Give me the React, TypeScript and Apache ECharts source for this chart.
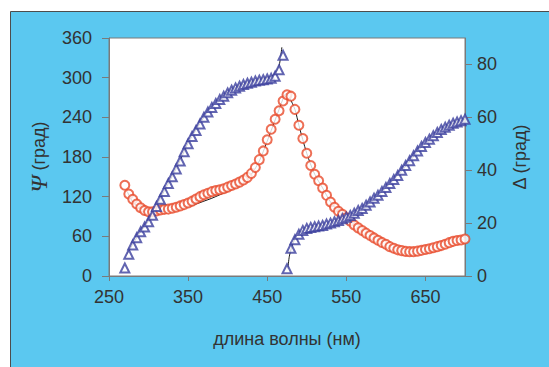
import React, { useEffect, useRef } from "react";
import * as echarts from "echarts";

// Wavelengths (nm) of the measured points, first and second Ψ branch
const wavelengthsA = [
  270, 275, 280, 285, 290, 295, 300, 305, 310, 315, 320, 325, 330, 335, 340, 345, 350, 355, 360, 365, 370,
  375, 380, 385, 390, 395, 400, 405, 410, 415, 420, 425, 430, 435, 440, 445, 450, 455, 460, 465, 470,
];
const wavelengthsB = [
  475, 480, 485, 490, 495, 500, 505, 510, 515, 520, 525, 530, 535, 540, 545, 550, 555, 560, 565, 570, 575,
  580, 585, 590, 595, 600, 605, 610, 615, 620, 625, 630, 635, 640, 645, 650, 655, 660, 665, 670, 675, 680,
  685, 690, 695, 700,
];

// Measured Ψ (град), left axis
const psiA = [
  12, 33, 47, 58, 67, 74, 82, 92, 105, 116, 128, 140, 150, 162, 174, 188, 200, 211, 220, 230, 240,
  248, 255, 261, 267, 272, 277, 281, 284.5, 287, 289.5, 291.5, 293, 295, 296, 297, 298, 299, 302, 312, 334,
];
const psiB = [
  11, 42, 55, 63, 69, 72, 73.5, 74.5, 75.5, 76.5, 78.5, 80, 82, 84, 86.5, 89, 91.5, 95, 99, 102, 107,
  112, 117.5, 122, 128, 134, 140, 146, 152, 160, 167, 174.5, 182, 189, 196, 202, 207, 212, 217, 221.5, 225, 228,
  231, 233, 235, 237,
];

// Measured Δ (град), right axis, at wavelengthsA followed by wavelengthsB
const deltaValues = [
  34.3, 31, 29, 27.2, 25.8, 24.8, 24.3, 24.3, 24.6, 25, 25.2, 25.3, 25.6, 26, 26.5, 27, 27.6, 28.3, 29.1, 30, 30.7,
  31.3, 31.9, 32.3, 32.6, 33, 33.6, 34.2, 34.8, 35.5, 36.3, 37.3, 38.8, 41, 44, 47.3, 51.5, 55.5, 59.3, 62.5, 66.2,
  68.5, 68, 63, 57, 52, 46.4, 41.8, 38.5, 36, 33.3, 30.5, 28, 26, 24.5, 23.3, 22, 20.7, 19.3, 18.2, 17.2, 16.2,
  15.3, 14.4, 13.5, 12.7, 12, 11.1, 10.5, 9.9, 9.6, 9.3, 9.2, 9.2, 9.4, 9.7, 10, 10.3, 10.7, 11.1, 11.5, 12,
  12.6, 13.1, 13.4, 13.6, 14,
];

// Model curves (black lines)
const fitPsiAX = [273, 280, 290, 300, 310, 320, 330, 340, 350, 360, 370, 380, 390, 400, 410, 420, 430, 440, 450, 455, 460, 465, 468.5];
const fitPsiAY = [33, 48, 67, 83, 106, 129, 151, 175, 201, 221, 240, 256, 268, 278, 285, 290, 294, 297, 300, 302, 306, 318, 346];
const fitPsiBX = [476, 478, 481, 485, 490, 500, 510, 520, 530, 540, 550, 560, 570, 580, 590, 600, 610, 620, 630, 640, 650, 660, 670, 680, 690, 700];
const fitPsiBY = [11, 30, 44, 56, 64, 72, 74.5, 76.5, 80, 84, 89, 95, 102, 112, 122, 133, 146, 159, 173, 188, 201, 211, 221, 228, 233, 237];
const fitDeltaX = [
  273, 280, 290, 300, 310, 320, 330, 340, 350, 360, 370, 380, 390, 400, 410, 420, 430, 440, 450, 460, 465, 470,
  474, 478, 485, 490, 500, 510, 520, 530, 540, 550, 560, 570, 580, 590, 600, 610, 620, 630, 640, 650, 660, 670,
  680, 690, 700,
];
const fitDeltaY = [
  32, 28, 25.5, 24.8, 24.8, 24.9, 25.1, 25.5, 26.2, 27.2, 28.3, 29.4, 30.7, 32, 33.6, 35.5, 38.5, 43.5, 51, 59, 63, 67,
  69, 67.5, 63, 57, 46.4, 38.5, 33.3, 28, 24.5, 22, 19.3, 17.2, 15.3, 13.5, 12, 10.5, 9.6, 9.2, 9.4, 10, 10.7, 11.5,
  12.6, 13.4, 14,
];

// Tick labels
const xTicks = [250, 350, 450, 550, 650];
const psiTicks = [0, 60, 120, 180, 240, 300, 360];
const deltaTicks = [0, 20, 40, 60, 80];

const zip = (xs: number[], ys: number[]) => xs.map((x, i) => [x, ys[i]]);

const FONT = "'Liberation Sans', Arial, sans-serif";
const TEXT = "#333333";
const AXIS = "#7a7a7a";
const BLUE = "#3b3f9e";
const RED = "#e84b2c";

export default function App() {
  const ref = useRef<HTMLDivElement>(null);

  useEffect(() => {
    if (!ref.current) return;
    const chart = echarts.init(ref.current, undefined, { renderer: "svg" });
    const allWavelengths = wavelengthsA.concat(wavelengthsB);

    chart.setOption({
      animation: false,
      backgroundColor: "#ffffff",
      textStyle: { fontFamily: FONT },
      graphic: [
        {
          type: "rect",
          z: -10,
          silent: true,
          shape: { x: 10.5, y: 11.5, width: 600, height: 400 },
          style: { fill: "#5bc8f0", stroke: "#4d4d4d", lineWidth: 1 },
        },
      ],
      grid: {
        left: 109,
        top: 38,
        width: 356,
        height: 238,
        show: true,
        backgroundColor: "#ffffff",
        borderColor: AXIS,
        borderWidth: 1,
      },
      xAxis: {
        type: "value",
        min: 250,
        max: 700,
        interval: 100,
        name: "длина волны (нм)",
        nameLocation: "middle",
        nameGap: 54,
        nameTextStyle: { fontSize: 18, color: TEXT, fontFamily: FONT },
        axisLine: { lineStyle: { color: AXIS, width: 1 } },
        axisTick: { length: 5, lineStyle: { color: AXIS }, customValues: xTicks },
        axisLabel: { fontSize: 18, color: TEXT, margin: 12, fontFamily: FONT, customValues: xTicks },
        splitLine: { show: false },
      },
      yAxis: [
        {
          type: "value",
          position: "left",
          min: 0,
          max: 360,
          interval: 60,
          name: "{psi|Ψ} (град)",
          nameLocation: "middle",
          nameRotate: 90,
          nameGap: 58,
          nameTextStyle: {
            fontSize: 18,
            color: TEXT,
            fontFamily: FONT,
            rich: {
              psi: { fontSize: 24, fontFamily: "'Liberation Serif', 'DejaVu Serif', serif", fontStyle: "italic", color: TEXT },
            },
          },
          axisLine: { show: true, lineStyle: { color: AXIS, width: 1 } },
          axisTick: { show: true, length: 7, lineStyle: { color: AXIS }, customValues: psiTicks },
          axisLabel: { fontSize: 18, color: TEXT, margin: 17, fontFamily: FONT, customValues: psiTicks },
          splitLine: { show: false },
        },
        {
          type: "value",
          position: "right",
          min: 0,
          max: 90,
          interval: 20,
          name: "Δ (град)",
          nameLocation: "middle",
          nameRotate: 90,
          nameGap: 46,
          nameTextStyle: { fontSize: 18, color: TEXT, fontFamily: FONT },
          axisLine: { show: true, lineStyle: { color: AXIS, width: 1 } },
          axisTick: { show: true, length: 7, lineStyle: { color: AXIS }, customValues: deltaTicks },
          axisLabel: { fontSize: 18, color: TEXT, margin: 12, fontFamily: FONT, customValues: deltaTicks },
          splitLine: { show: false },
        },
      ],
      series: [
        {
          name: "Ψ модель 1",
          type: "line",
          yAxisIndex: 0,
          data: zip(fitPsiAX, fitPsiAY),
          showSymbol: false,
          smooth: 0.3,
          lineStyle: { color: "#1a1a1a", width: 1 },
          z: 1,
        },
        {
          name: "Ψ модель 2",
          type: "line",
          yAxisIndex: 0,
          data: zip(fitPsiBX, fitPsiBY),
          showSymbol: false,
          smooth: 0.3,
          lineStyle: { color: "#1a1a1a", width: 1 },
          z: 1,
        },
        {
          name: "Δ модель",
          type: "line",
          yAxisIndex: 1,
          data: zip(fitDeltaX, fitDeltaY),
          showSymbol: false,
          smooth: 0.3,
          lineStyle: { color: "#1a1a1a", width: 1 },
          z: 1,
        },
        {
          name: "Δ",
          type: "scatter",
          yAxisIndex: 1,
          data: zip(allWavelengths, deltaValues),
          symbol: "emptyCircle",
          symbolSize: 9,
          itemStyle: { color: RED, borderColor: RED, borderWidth: 1.5 },
          z: 2,
        },
        {
          name: "Ψ",
          type: "scatter",
          yAxisIndex: 0,
          data: zip(wavelengthsA, psiA).concat(zip(wavelengthsB, psiB)),
          symbol: "emptyTriangle",
          symbolSize: 9,
          itemStyle: { color: BLUE, borderColor: BLUE, borderWidth: 1.3 },
          z: 3,
        },
      ],
    });

    return () => chart.dispose();
  }, []);

  return (
    <div
      ref={ref}
      style={{ position: "absolute", left: 0, top: 0, width: 549, height: 367 }}
    />
  );
}
